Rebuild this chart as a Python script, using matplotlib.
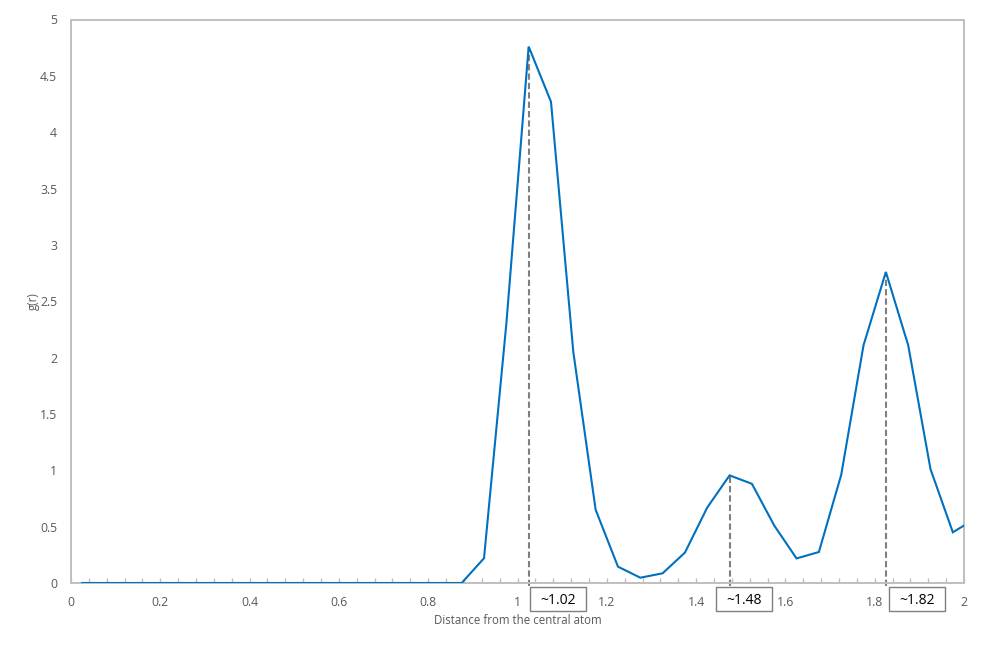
import matplotlib
matplotlib.use("Agg")
import matplotlib.pyplot as plt
import matplotlib.transforms as mtransforms
from matplotlib.patches import Rectangle
from matplotlib.ticker import MultipleLocator, FuncFormatter

# ---- data ----
r_values = [0.025, 0.075, 0.125, 0.175, 0.225, 0.275, 0.325, 0.375, 0.425, 0.475,
            0.525, 0.575, 0.625, 0.675, 0.725, 0.775, 0.825, 0.875,
            0.925, 0.975, 1.025, 1.075, 1.125, 1.175, 1.225, 1.275, 1.325, 1.375,
            1.425, 1.475, 1.525, 1.575, 1.625, 1.675, 1.725, 1.775, 1.825, 1.875,
            1.925, 1.975, 2.025]
g_values = [0, 0, 0, 0, 0, 0, 0, 0, 0, 0,
            0, 0, 0, 0, 0, 0, 0, 0,
            0.22, 2.30, 4.76, 4.27, 2.05, 0.65, 0.145, 0.047, 0.086, 0.27,
            0.67, 0.955, 0.88, 0.51, 0.218, 0.275, 0.96, 2.11, 2.76, 2.11,
            1.01, 0.45, 0.57]
peak_x = [1.025, 1.475, 1.825]
peak_y = [4.76, 0.955, 2.76]
peak_labels = ["~1.02", "~1.48", "~1.82"]
label_box_x = [1.0896, 1.507, 1.894]   # box centres (data x)
x_label = "Distance from the central atom"
y_label = "g(r)"

FONT = "Open Sans"
GREY_TXT = "#595959"
SPINE = "#BFBFBF"

fig = plt.figure(figsize=(9.87, 6.48), dpi=100)
ax = fig.add_axes([71/987, 65/648, 893/987, 563.5/648])

ax.plot(r_values, g_values, color="#0070C0", lw=1.5, solid_joinstyle="miter", zorder=3)

# dashed peak markers
for px, py in zip(peak_x, peak_y):
    ax.plot([px, px], [-0.03, py], color="#7F7F7F", lw=1.5,
            linestyle=(0, (3, 1.5)), clip_on=False, zorder=2)

ax.set_xlim(0, 2)
ax.set_ylim(0, 5)

ax.xaxis.set_major_locator(MultipleLocator(0.2))
ax.xaxis.set_minor_locator(MultipleLocator(0.04))
ax.yaxis.set_major_locator(MultipleLocator(0.5))
fmt = FuncFormatter(lambda v, p: f"{round(v, 2):g}")
ax.xaxis.set_major_formatter(fmt)
ax.yaxis.set_major_formatter(fmt)

ax.tick_params(axis="x", which="both", direction="in", length=3.5, width=1.0,
               color=SPINE, pad=9, labelsize=8.8, labelcolor=GREY_TXT)
ax.tick_params(axis="y", which="both", length=0, pad=10, labelsize=8.8,
               labelcolor=GREY_TXT)
for lab in ax.get_xticklabels() + ax.get_yticklabels():
    lab.set_fontfamily(FONT)

for s in ax.spines.values():
    s.set_color(SPINE)
    s.set_linewidth(1.4)

ax.set_xlabel(x_label, fontsize=8.3, color=GREY_TXT, family=FONT)
ax.set_ylabel(y_label, fontsize=8.3, color=GREY_TXT, family=FONT)
ax.xaxis.set_label_coords(0.5, -(620 - 583) / 563.5)
ax.xaxis.label.set_va("center")
ax.yaxis.set_label_coords(-(71 - 33) / 893, 0.5)
ax.yaxis.label.set_va("center")

# labelled boxes below the axis
trans = mtransforms.blended_transform_factory(ax.transData, ax.transAxes)
box_w = 56 / 893 * 2
box_h = 24 / 563.5
box_yc = -(599 - 583) / 563.5
for bx, lab in zip(label_box_x, peak_labels):
    ax.add_patch(Rectangle((bx - box_w / 2, box_yc - box_h / 2), box_w, box_h,
                           transform=trans, facecolor="white", edgecolor="#7F7F7F",
                           lw=1.0, clip_on=False, zorder=4))
    ax.text(bx, box_yc - 0.003, lab, transform=trans, ha="center", va="center",
            fontsize=10, color="black", family=FONT, zorder=5)

fig.savefig("out.png", dpi=100)
